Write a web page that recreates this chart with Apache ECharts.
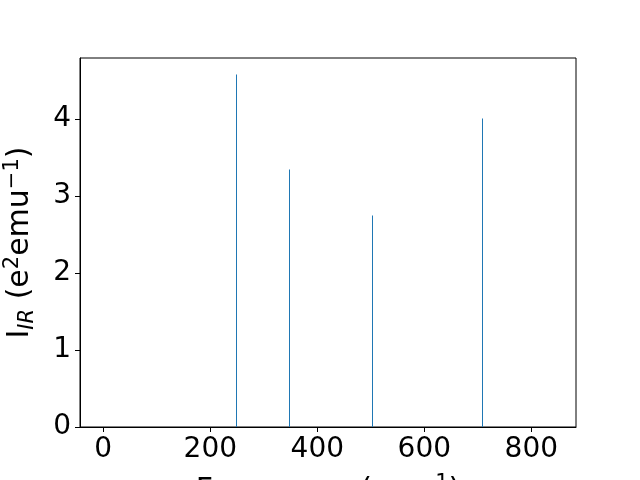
<!DOCTYPE html>
<html><head><meta charset="utf-8">
<script src="https://cdn.jsdelivr.net/npm/echarts@6/dist/echarts.min.js"></script>
<style>html,body{margin:0;padding:0;background:#fff}#c{width:640px;height:480px}</style>
</head><body><div id="c"></div>
<script>
const frequencies = [248.0, 347.1, 502.4, 708.1];
const intensities = [4.575, 3.342, 2.746, 4.004];
const xTicks = [0, 200, 400, 600, 800];
const yTicks = [0, 1, 2, 3, 4];

const chart = echarts.init(document.getElementById('c'), null, {renderer: 'canvas'});
const font = 'DejaVu Sans';
chart.setOption({
  animation: false,
  backgroundColor: '#fff',
  grid: {left: 80, right: 64, top: 58, bottom: 53, show: true, borderColor: '#000', borderWidth: 1,
    backgroundColor: 'transparent', containLabel: false, outerBoundsMode: 'none'},
  xAxis: {
    type: 'value', min: -43.5, max: 883.5,
    axisLine: {show: true, onZero: false, lineStyle: {color: '#000', width: 1}},
    axisTick: {show: true, length: 5, lineStyle: {color: '#000'}, customValues: xTicks},
    axisLabel: {fontFamily: font, fontSize: 28, color: '#000', margin: 9, customValues: xTicks},
    splitLine: {show: false},
    name: 'Frequency (cm{sup|−1})',
    nameLocation: 'middle', nameGap: 46,
    nameTextStyle: {fontFamily: font, fontSize: 30, color: '#000', lineHeight: 36, verticalAlign: 'top',
      rich: {sup: {fontFamily: font, fontSize: 21, verticalAlign: 'top', lineHeight: 36, color: '#000'}}}
  },
  yAxis: {
    type: 'value', min: 0, max: 4.79,
    axisLine: {show: true, onZero: false, lineStyle: {color: '#000', width: 1}},
    axisTick: {show: true, length: 5, lineStyle: {color: '#000'}, customValues: yTicks},
    axisLabel: {fontFamily: font, fontSize: 28, color: '#000', margin: 9, customValues: yTicks},
    splitLine: {show: false},
    name: 'I{sub|IR} (e{sup|2}emu{sup|−1})',
    nameLocation: 'middle', nameGap: 42,
    nameTextStyle: {fontFamily: font, fontSize: 30, color: '#000', lineHeight: 36,
      rich: {
        sup: {fontFamily: font, fontSize: 21, verticalAlign: 'top', lineHeight: 36, color: '#000'},
        sub: {fontFamily: font, fontSize: 21, fontStyle: 'italic', verticalAlign: 'bottom', lineHeight: 36, color: '#000'}
      }}
  },
  series: [{
    type: 'custom',
    data: frequencies.map((f, i) => [f, intensities[i]]),
    renderItem: function (params, api) {
      const top = api.coord([api.value(0), api.value(1)]);
      const base = api.coord([api.value(0), 0]);
      const x = Math.round(top[0]);
      return {type: 'rect', shape: {x: x, y: top[1], width: 1, height: base[1] - top[1]},
        style: {fill: '#1f77b4', stroke: null}};
    }
  }]
});
</script></body></html>
